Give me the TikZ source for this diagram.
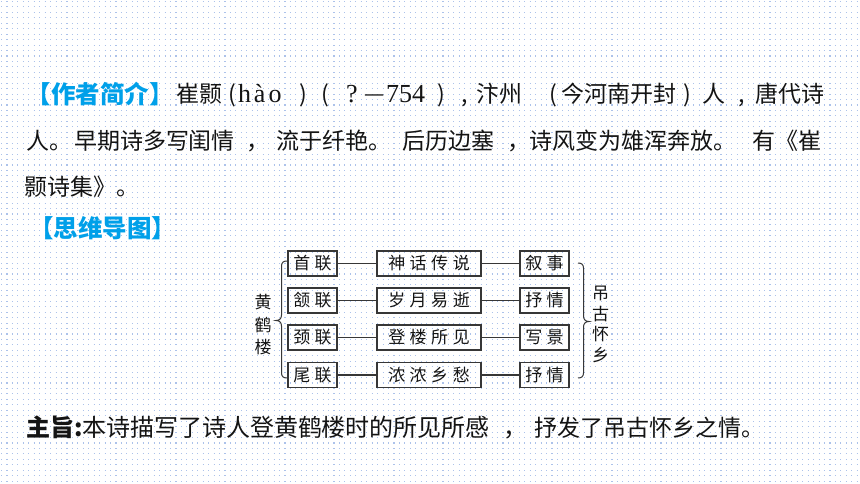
\documentclass[tikz,border=0pt]{standalone}
\usepackage{fontspec}
\usepackage{graphicx}
\setmainfont{Noto Sans CJK SC}
\newfontfamily\lserif{Liberation Serif}
\definecolor{hblue}{RGB}{0,160,233}
\definecolor{dotc}{RGB}{172,194,234}
\definecolor{inkc}{RGB}{20,20,20}
\definecolor{boxc}{RGB}{55,55,55}
\newcommand\lsp{\kern4.5pt\relax}
\begin{document}
\begin{tikzpicture}[x=1pt,y=-1pt,
  txt/.style={inner sep=0pt, outer sep=0pt, text=inkc, font=\fontsize{23}{23}\selectfont},
  btxt/.style={inner sep=0pt, outer sep=0pt, text=inkc, font=\fontsize{24}{24}\selectfont},
  hd/.style={inner sep=0pt, outer sep=0pt, text=hblue, font=\fontsize{24.5}{24.5}\selectfont\bfseries},
  lat/.style={inner sep=0pt, outer sep=0pt, text=inkc, font=\fontsize{26}{26}\selectfont\lserif},
  box/.style={draw=boxc, line width=1.3pt, inner sep=0pt, minimum height=25pt, text=inkc, font=\fontsize{17}{17}\selectfont},
  sbox/.style={box, minimum width=49pt},
  mbox/.style={box, minimum width=104pt},
  conn/.style={draw=boxc, line width=1.1pt},
  brc/.style={draw=boxc, line width=1pt},
  vt/.style={inner sep=0pt, text=inkc, align=center}
]
\useasboundingbox (0,0) rectangle (860,484);
\fill[white] (0,0) rectangle (860,484);
\foreach \yy in {1.5,6.95,...,484} {
  \draw[dotc, line width=1.1pt, dash pattern=on 1.1pt off 4.35pt] (1,\yy) -- (860,\yy);
}
% line 1
\node[hd, anchor=base west] (h1) at (27,104) {【作者简介】};
\node[txt, anchor=base west] (t1a) at (176,103) {崔颢};
\node[txt, anchor=base] (p1) at (232,103) {(};
\node[lat, anchor=base west] (t1b) at (238,103) {h\kern3pt à\kern3pt o};
\node[txt, anchor=base] (p2) at (303,103) {)};
\node[txt, anchor=base] (p3) at (325,103) {(};
\node[lat, anchor=base] (q1) at (352,103) {?};
\node[lat, anchor=base west] (d1) at (365,103) {\raisebox{1.2pt}{\scalebox{0.7}[1]{—}}\kern3pt 754};
\node[txt, anchor=base] (p4) at (441,103) {)};
\node[txt, anchor=base] (c1) at (465,103) {,};
\node[txt, anchor=base west] (t1c) at (476,103) {汴州};
\node[txt, anchor=base] (p5) at (553,103) {(};
\node[txt, anchor=base west] (t1d) at (561,103) {今河南开封};
\node[txt, anchor=base] (p6) at (687,103) {)};
\node[txt, anchor=base west] (t1e) at (702,103) {人};
\node[txt, anchor=base] (c2) at (742,103) {,};
\node[txt, anchor=base west] (t1f) at (755,103) {唐代诗};
% line 2
\node[txt, anchor=base west] (t2a) at (27,149.5) {人。};
\node[txt, anchor=base west] (t2b) at (74,149.5) {早期诗多写闺情};
\node[txt, anchor=base west] (t2c) at (246,149.5) {，};
\node[txt, anchor=base west] (t2d) at (276,149.5) {流于纤艳。};
\node[txt, anchor=base west] (t2e) at (402,149.5) {后历边塞};
\node[txt, anchor=base west] (t2f) at (507,149.5) {，};
\node[txt, anchor=base west] (t2g) at (529,149.5) {诗风变为雄浑奔放。};
\node[txt, anchor=base west] (t2h) at (752,149.5) {有《崔};
% line 3
\node[txt, anchor=base west] (t3) at (24,195.5) {颢诗集》。};
% line 4
\node[hd, anchor=base west] (h2) at (29,237) {【思维导图】};
% mind map
\node[sbox] (l1) at (312.5,263.5) {首\lsp 联};
\node[sbox] (l2) at (312.5,300.5) {颔\lsp 联};
\node[sbox] (l3) at (312.5,337.5) {颈\lsp 联};
\node[sbox] (l4) at (312.5,375) {尾\lsp 联};
\node[mbox] (m1) at (429,263.5) {神\lsp 话\lsp 传\lsp 说};
\node[mbox] (m2) at (429,300.5) {岁\lsp 月\lsp 易\lsp 逝};
\node[mbox] (m3) at (429,337.5) {登\lsp 楼\lsp 所\lsp 见};
\node[mbox] (m4) at (429,375) {浓\lsp 浓\lsp 乡\lsp 愁};
\node[sbox] (r1) at (544.5,263.5) {叙\lsp 事};
\node[sbox] (r2) at (544.5,300.5) {抒\lsp 情};
\node[sbox] (r3) at (544.5,337.5) {写\lsp 景};
\node[sbox] (r4) at (544.5,375) {抒\lsp 情};
\foreach \i in {1,2,3,4} {
  \draw[conn] (l\i) -- (m\i);
  \draw[conn] (m\i) -- (r\i);
}
\draw[brc] (287,261) .. controls (283.5,261) and (281.5,262.5) .. (281.5,266)
  -- (281.5,315) .. controls (281.5,318.5) and (279.5,320.5) .. (276,320.5)
  .. controls (279.5,320.5) and (281.5,322.5) .. (281.5,326)
  -- (281.5,373) .. controls (281.5,376.5) and (283.5,378) .. (287,378);
\draw[brc] (578,263) .. controls (581.5,263) and (583.5,264.5) .. (583.5,268)
  -- (583.5,316) .. controls (583.5,319.5) and (585.5,321.5) .. (589,321.5)
  .. controls (585.5,321.5) and (583.5,323.5) .. (583.5,327)
  -- (583.5,373) .. controls (583.5,376.5) and (581.5,378) .. (578,378);
\node[vt, font=\fontsize{17}{22.5}\selectfont] (hhl) at (263,325) {黄\\鹤\\楼};
\node[vt, font=\fontsize{17}{20.5}\selectfont] (dghx) at (600.5,324.5) {吊\\古\\怀\\乡};
% bottom line
\node[inner sep=0pt, text=inkc, font=\fontsize{24}{24}\selectfont\bfseries, anchor=base west] (zz) at (26,436) {主旨:};
\node[btxt, anchor=base west] (b1) at (82,436) {本诗描写了诗人登黄鹤楼时的所见所感};
\node[btxt, anchor=base west] (b2) at (503,436) {，};
\node[txt, anchor=base west] (b3) at (534,436) {抒发了吊古怀乡之情。};
\end{tikzpicture}
\end{document}
